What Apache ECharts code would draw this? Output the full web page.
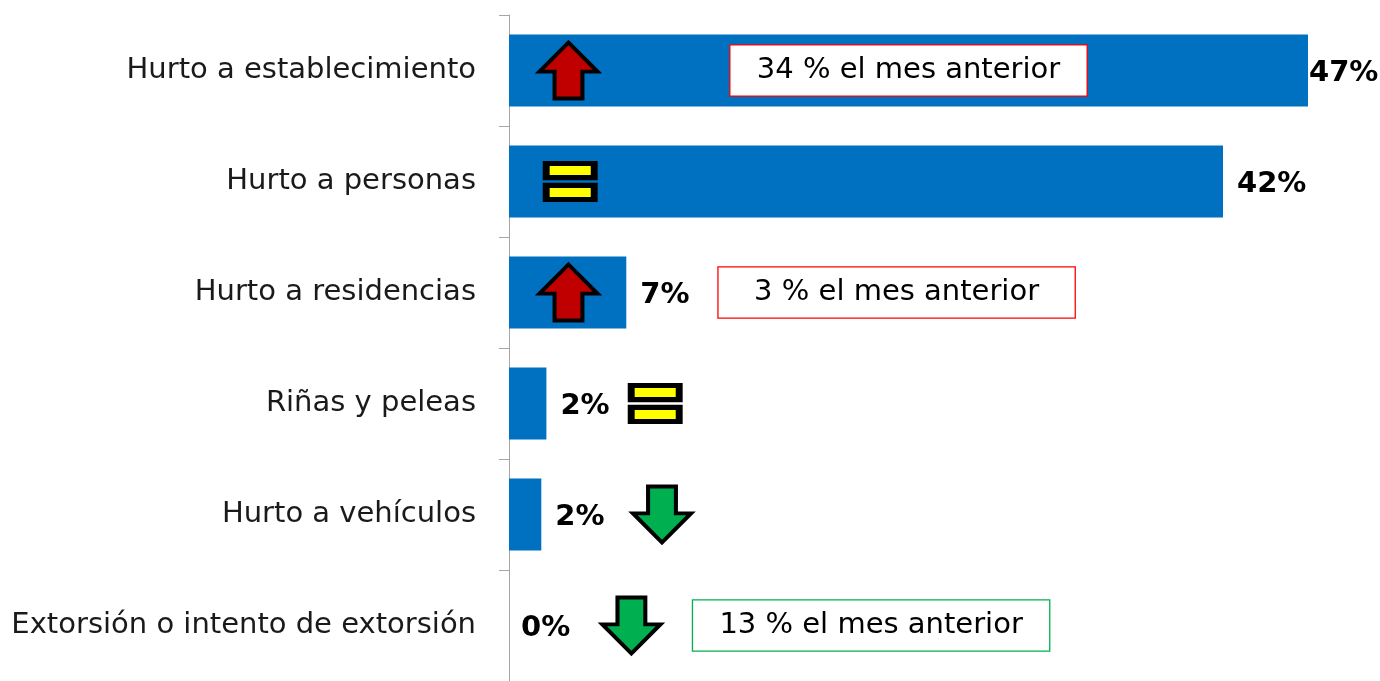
<!DOCTYPE html>
<html>
<head>
<meta charset="utf-8">
<script src="https://cdn.jsdelivr.net/npm/echarts@6/dist/echarts.min.js"></script>
<style>html,body{margin:0;padding:0;background:#fff}#c{width:1380px;height:681px}</style>
</head>
<body>
<div id="c"></div>
<script>
const categories = ['Hurto a establecimiento','Hurto a personas','Hurto a residencias','Riñas y peleas','Hurto a vehículos','Extorsión o intento de extorsión'];
const values = [47, 42, 6.9, 2.2, 1.9, 0];
const valueLabels = ['47%','42%','7%','2%','2%','0%'];
const trends = ['up','equal','up','equal','down','down'];
const prevMonthNotes = ['34 % el mes anterior', null, '3 % el mes anterior', null, null, '13 % el mes anterior'];
const noteKinds = ['up', null, 'up', null, null, 'down'];

const chart = echarts.init(document.getElementById('c'));
const FONT = '"DejaVu Sans", sans-serif';

const ICON_X = [3.5, 3.6, 3.5, 8.6, 9.0, 7.2];
const NOTE_X = [23.5, null, 22.8, null, null, 21.3];

const PATHS = {
  up: 'path://M50,0 L100,52 L74,52 L74,100 L26,100 L26,52 L0,52 Z',
  down: 'path://M26,0 L74,0 L74,48 L100,48 L50,100 L0,48 L26,48 Z',
  equal: 'path://M0,0 L100,0 L100,39 L0,39 Z M0,61 L100,61 L100,100 L0,100 Z'
};
const ICON_COLORS = {up:'#C00000', down:'#00B050', equal:'#FFFF00'};
const ICON_SIZE = {up:[58,56], down:[58,56], equal:[48,36]};
const ICON_STROKE = {up:4, down:4, equal:6};

const iconData = trends.map((t,i)=>({
  value:[ICON_X[i], categories[i]],
  symbol: PATHS[t],
  symbolSize: ICON_SIZE[t],
  itemStyle:{color: ICON_COLORS[t], borderColor:'#000', borderWidth:ICON_STROKE[t], opacity:1, borderJoin:'miter'}
}));

const noteData = [];
prevMonthNotes.forEach((n,i)=>{
  if(!n) return;
  noteData.push({
    value:[NOTE_X[i], categories[i]],
    name:n,
    label:{borderColor: noteKinds[i]==='down' ? '#00B050' : '#FF0000'}
  });
});

const labelDist = [1, 14, 14, 14, 14, 12];

chart.setOption({
  animation:false,
  grid:{left:509, right:21, top:15, bottom:0, containLabel:false},
  xAxis:{type:'value', min:0, max:50, show:false},
  yAxis:{
    type:'category', data:categories, inverse:true,
    axisLine:{show:true, lineStyle:{color:'#A6A6A6', width:1}},
    axisTick:{show:true, length:10, lineStyle:{color:'#A6A6A6'}},
    axisLabel:{color:'#1a1a1a', fontSize:29, fontFamily:FONT, margin:33},
    splitLine:{show:false}
  },
  series:[
    {
      type:'bar', barWidth:'65%',
      data: values.map((v,i)=>({
        value:v,
        label:{show:true, position:'right', distance:labelDist[i], formatter:valueLabels[i],
          fontSize:29, fontWeight:'bold', color:'#000', fontFamily:FONT, offset:[0,3]}
      })),
      itemStyle:{color:'#0070C0'}
    },
    {
      type:'scatter', z:5, data: iconData, silent:true, itemStyle:{opacity:1}
    },
    {
      type:'scatter', z:5, silent:true,
      symbolSize:1, itemStyle:{opacity:1, color:'#fff'},
      data: noteData,
      label:{show:true, position:'inside', formatter:p=>p.name, color:'#000', fontSize:29, fontFamily:FONT,
        width:356, height:40, lineHeight:40, align:'center', verticalAlign:'middle',
        padding:[8,0,2,0], backgroundColor:'#fff', borderWidth:1.3, opacity:1}
    }
  ]
});
</script>
</body>
</html>
